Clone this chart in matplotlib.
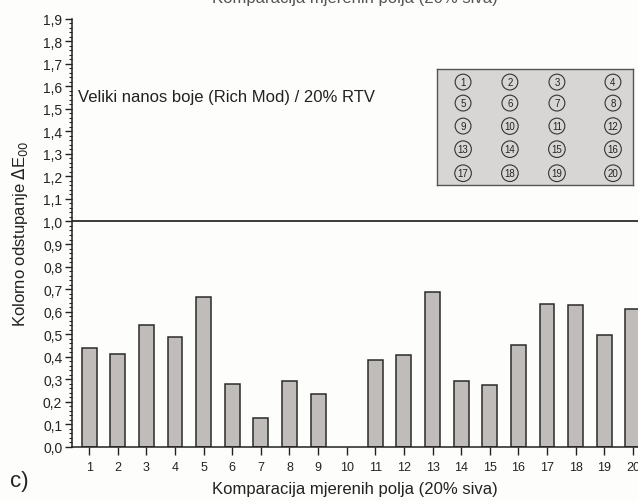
import matplotlib
matplotlib.use("Agg")
import matplotlib.pyplot as plt
from matplotlib.ticker import MultipleLocator, AutoMinorLocator, FuncFormatter

plt.rcParams["font.family"] = ["Liberation Sans", "DejaVu Sans"]
plt.rcParams["text.color"] = "#222222"
plt.rcParams["axes.edgecolor"] = "#222222"
plt.rcParams["xtick.color"] = "#222222"
plt.rcParams["ytick.color"] = "#222222"

# mjerna polja 1-20 i kolorna odstupanja dE00
polja = list(range(1, 21))
de00 = [0.437, 0.412, 0.542, 0.489, 0.663, 0.279, 0.130, 0.291, 0.235, 0.0,
        0.384, 0.409, 0.686, 0.294, 0.275, 0.453, 0.636, 0.628, 0.496, 0.614]
prag = 1.0
oznaka = "Veliki nanos boje (Rich Mod) / 20% RTV"
naslov = "Komparacija mjerenih polja (20% siva)"

W, H = 638, 502
fig = plt.figure(figsize=(W / 100, H / 100), dpi=100)
fig.patch.set_facecolor("#fdfdfc")

# os prelazi desni rub slike, kao na izvornom grafu
left, right, top, bottom = 72, 650, 19.5, 448
ax = fig.add_axes([left / W, (H - bottom) / H, (right - left) / W, (bottom - top) / H])
ax.set_facecolor("none")

# polje bez odstupanja nema vidljivog stupca
rubovi = [1.1 if v > 0 else 0 for v in de00]
ax.bar(polja, de00, width=0.52, color="#bfbcb9", edgecolor="#2a2a2a", linewidth=rubovi, zorder=2)
ax.axhline(prag, color="#1a1a1a", linewidth=1.2, zorder=3)

ax.set_xlim(0.4, 20.6)
ax.set_ylim(0, 1.9)
ax.set_xticks(polja)
ax.yaxis.set_major_locator(MultipleLocator(0.1))
ax.yaxis.set_minor_locator(AutoMinorLocator(5))
ax.yaxis.set_major_formatter(FuncFormatter(lambda v, p: f"{v:.1f}".replace(".", ",")))
ax.tick_params(axis="y", which="major", length=5, width=1, labelsize=10, pad=2)
ax.tick_params(axis="y", which="minor", length=2.5, width=0.8)
ax.tick_params(axis="x", which="major", length=6, width=1, labelsize=9, pad=4)
for s in ("top", "right"):
    ax.spines[s].set_visible(False)
for s in ("left", "bottom"):
    ax.spines[s].set_linewidth(1.1)

ax.text(0.6, 1.555, oznaka, fontsize=12, va="center", ha="left")

# raspored mjernih polja
ins = ax.inset_axes([0.6315, 0.611, 0.339, 0.271])
ins.set_facecolor("#d8d6d4")
ins.set_xlim(0, 1)
ins.set_ylim(0, 1)
ins.set_xticks([])
ins.set_yticks([])
for s in ins.spines.values():
    s.set_edgecolor("#555555")
    s.set_linewidth(1.0)
kol = [0.133, 0.372, 0.612, 0.898]
red = [0.888, 0.707, 0.509, 0.310, 0.103]
for i, n in enumerate(polja):
    ins.text(kol[i % 4], red[i // 4], str(n), fontsize=7, ha="center", va="center",
             bbox=dict(boxstyle="circle,pad=0.3", fc="none", ec="#333333", lw=0.8))

fig.text(20 / W, 1 - 234 / H, r"Kolorno odstupanje $\Delta$E$_{00}$", rotation=90,
         fontsize=12, ha="center", va="center")
fig.text(355 / W, 1 - 490 / H, naslov, fontsize=12, ha="center", va="center")
fig.text(355 / W, 1 - 3.5 / H, naslov, fontsize=12, ha="center", va="baseline", color="#555555")
fig.text(10 / W, 1 - 482 / H, "c)", fontsize=16, ha="left", va="center")

fig.savefig("out.png", dpi=100, facecolor=fig.get_facecolor())
